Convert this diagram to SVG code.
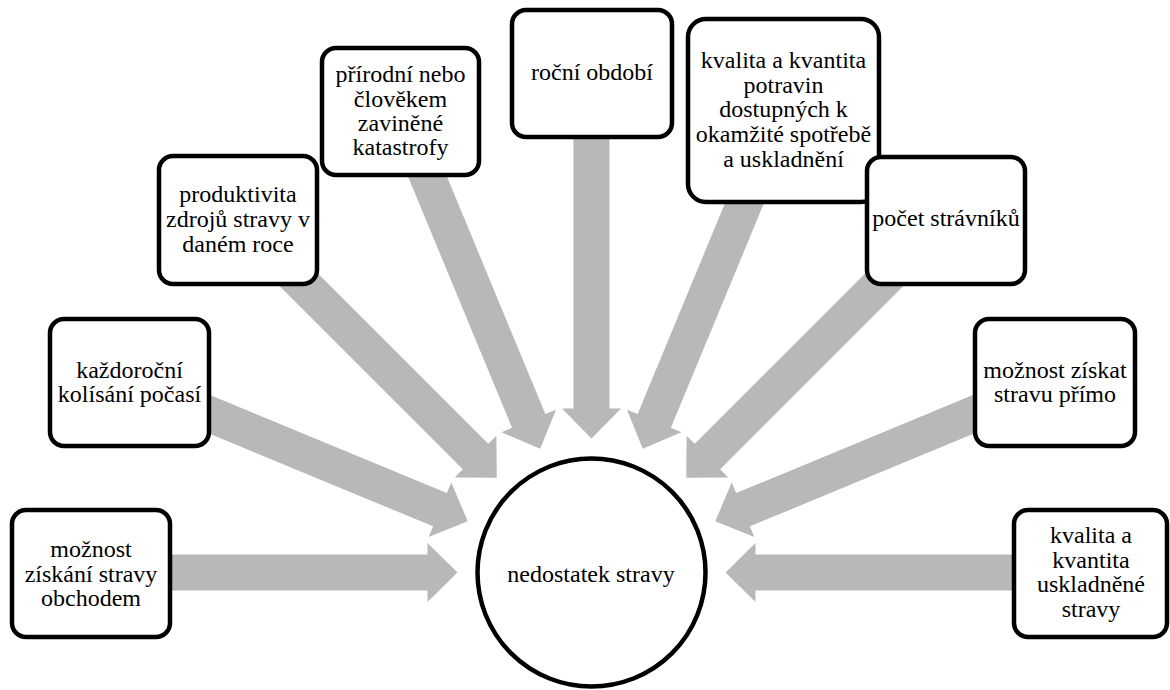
<svg xmlns="http://www.w3.org/2000/svg" xmlns:xlink="http://www.w3.org/1999/xlink" width="1170" height="690" viewBox="0 0 1170 690">
  <style>
    .box { fill: #ffffff; stroke: #000000; stroke-width: 4.5; }
    .lbl { font-size: 24px; fill: #000000; text-anchor: middle; }
    .arr { fill: #b8b8b8; stroke: none; }
  </style>
  <defs>
    <polygon id="arrow" class="arr" points="-500,-18 -164,-18 -164,-29.5 -134,0 -164,29.5 -164,18 -500,18"/>
  </defs>
  <rect x="0" y="0" width="1170" height="690" fill="#ffffff"/>
  <g id="connectors">
    <use xlink:href="#arrow" transform="translate(591.5,572.5) rotate(0)"/>
    <use xlink:href="#arrow" transform="translate(591.5,572.5) rotate(22.5)"/>
    <use xlink:href="#arrow" transform="translate(591.5,572.5) rotate(45)"/>
    <use xlink:href="#arrow" transform="translate(591.5,572.5) rotate(67.5)"/>
    <use xlink:href="#arrow" transform="translate(591.5,572.5) rotate(90)"/>
    <use xlink:href="#arrow" transform="translate(591.5,572.5) rotate(112.5)"/>
    <use xlink:href="#arrow" transform="translate(591.5,572.5) rotate(135)"/>
    <use xlink:href="#arrow" transform="translate(591.5,572.5) rotate(157.5)"/>
    <use xlink:href="#arrow" transform="translate(591.5,572.5) rotate(180)"/>
  </g>
  <g font-family="'Liberation Serif', 'DejaVu Serif', serif">
  <g id="center">
    <circle class="box" cx="591.5" cy="572.5" r="114"/>
    <text class="lbl" x="591" y="582">nedostatek stravy</text>
  </g>
  <g id="n1">
    <rect class="box" x="12" y="510" width="158" height="127" rx="14"/>
    <text class="lbl"><tspan x="91" y="557">možnost</tspan><tspan x="91" y="581.5">získání stravy</tspan><tspan x="91" y="606">obchodem</tspan></text>
  </g>
  <g id="n2">
    <rect class="box" x="50" y="319" width="159" height="127" rx="14"/>
    <text class="lbl"><tspan x="129.5" y="378">každoroční</tspan><tspan x="129.5" y="402">kolísání počasí</tspan></text>
  </g>
  <g id="n3">
    <rect class="box" x="159" y="156" width="158" height="128" rx="14"/>
    <text class="lbl"><tspan x="238" y="202">produktivita</tspan><tspan x="238" y="227">zdrojů stravy v</tspan><tspan x="238" y="252">daném roce</tspan></text>
  </g>
  <g id="n4">
    <rect class="box" x="322" y="48" width="157" height="127" rx="14"/>
    <text class="lbl"><tspan x="400.5" y="82">přírodní nebo</tspan><tspan x="400.5" y="107">člověkem</tspan><tspan x="400.5" y="131">zaviněné</tspan><tspan x="400.5" y="155">katastrofy</tspan></text>
  </g>
  <g id="n5">
    <rect class="box" x="512" y="10" width="160" height="127" rx="14"/>
    <text class="lbl" x="592" y="80">roční období</text>
  </g>
  <g id="n6">
    <rect class="box" x="688" y="19" width="191" height="183" rx="18"/>
    <text class="lbl"><tspan x="783.5" y="68">kvalita a kvantita</tspan><tspan x="783.5" y="93">potravin</tspan><tspan x="783.5" y="117">dostupných k</tspan><tspan x="783.5" y="142">okamžité spotřebě</tspan><tspan x="783.5" y="167">a uskladnění</tspan></text>
  </g>
  <g id="n7">
    <rect class="box" x="867" y="157" width="158" height="127" rx="14"/>
    <text class="lbl" x="946" y="226">počet strávníků</text>
  </g>
  <g id="n8">
    <rect class="box" x="975" y="319" width="160" height="127" rx="14"/>
    <text class="lbl"><tspan x="1055" y="378">možnost získat</tspan><tspan x="1055" y="402">stravu přímo</tspan></text>
  </g>
  <g id="n9">
    <rect class="box" x="1014" y="510" width="153" height="127" rx="14"/>
    <text class="lbl"><tspan x="1091" y="543">kvalita a</tspan><tspan x="1091" y="568">kvantita</tspan><tspan x="1091" y="592">uskladněné</tspan><tspan x="1091" y="617">stravy</tspan></text>
  </g>
  </g>
</svg>
